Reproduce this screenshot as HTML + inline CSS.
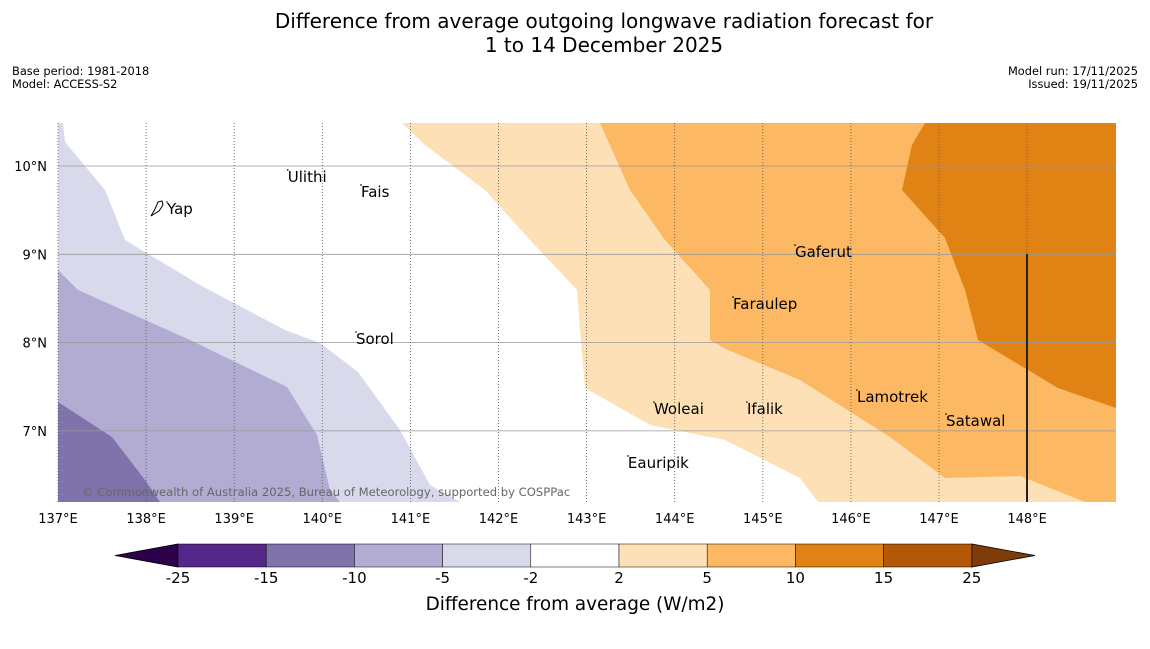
<!DOCTYPE html>
<html><head><meta charset="utf-8"><style>
body{margin:0;background:#fff;font-family:"Liberation Sans","DejaVu Sans",sans-serif;}
svg text{font-family:"DejaVu Sans","Liberation Sans",sans-serif;}
</style></head><body>
<svg id="c" width="1150" height="644" xmlns="http://www.w3.org/2000/svg">
<rect width="1150" height="644" fill="#fff"/>
<text x="604" y="28" font-size="20" text-anchor="middle">Difference from average outgoing longwave radiation forecast for</text>
<text x="604" y="52" font-size="20" text-anchor="middle">1 to 14 December 2025</text>
<text x="12" y="75" font-size="11.4">Base period: 1981-2018</text>
<text x="12" y="88" font-size="11.4">Model: ACCESS-S2</text>
<text x="1138" y="75" font-size="11.4" text-anchor="end">Model run: 17/11/2025</text>
<text x="1138" y="88" font-size="11.4" text-anchor="end">Issued: 19/11/2025</text>
<g id="map"></g>
<g id="cbar"></g>
</svg>
<script>
const lonTicks=[137,138,139,140,141,142,143,144,145,146,147,148];
const latTicks=[10,9,8,7];
const c_m2=[[63,123],[65,142],[105,190],[125,240],[200,285],[285,330],[320,343],[358,372],[400,430],[430,485],[460,502],[58,502],[58,123]];
const c_m5=[[58,270],[78,290],[190,340],[287,387],[317,435],[330,490],[340,502],[58,502]];
const c_m10=[[58,402],[112,437],[145,480],[160,502],[58,502]];
const c_p2=[[402,123],[425,145],[485,190],[530,240],[577,290],[580,330],[585,388],[650,425],[725,440],[800,478],[818,502],[1116,502],[1116,123]];
const c_p5=[[600,123],[630,190],[665,240],[710,290],[710,340],[728,350],[800,380],[890,437],[945,478],[1020,476],[1085,502],[1116,502],[1116,123]];
const c_p10=[[925,123],[912,145],[902,190],[945,238],[965,290],[978,340],[1058,388],[1116,408],[1116,123]];
const places=["Yap","Ulithi","Fais","Sorol","Gaferut","Faraulep","Woleai","Ifalik","Lamotrek","Satawal","Eauripik"];
const placeLon=[138.237,139.608,140.439,140.382,145.365,144.662,143.765,144.820,146.069,147.080,143.469];
const placeLat=[9.592,9.955,9.785,8.120,9.105,8.516,7.327,7.327,7.463,7.191,6.716];
const levels=[-25,-15,-10,-5,-2,2,5,10,15,25];
const levelColors=["#542788","#8073ac","#b2abd2","#d8daeb","#ffffff","#fee0b6","#fdb863","#e08214","#b35806"];
const X0=58,X1=1116,Y0=123,Y1=502;
const lonToX=l=>58+(l-137)*88.1, latToY=l=>166+(10-l)*88.3;
const pxToLon=x=>137+(x-58)/88.1, pxToLat=y=>10-(y-166)/88.3;
const NS="http://www.w3.org/2000/svg";
const map=document.getElementById('map');
function mk(t,a,p){const e=document.createElementNS(NS,t);for(const k in a)e.setAttribute(k,a[k]);(p||map).appendChild(e);return e;}
function poly(pts,fill,name){
 const d=pts.map(p=>lonToX(pxToLon(p[0])).toFixed(1)+','+latToY(pxToLat(p[1])).toFixed(1)).join(' ');
 const e=mk('polygon',{points:d,fill:fill});
 
 
}
poly(c_m2,"#d8daeb","contour-minus2");
poly(c_m5,"#b2abd2","contour-minus5");
poly(c_m10,"#8073ac","contour-minus10");
poly(c_p2,"#fee0b6","contour-plus2");
poly(c_p5,"#fdb863","contour-plus5");
poly(c_p10,"#e08214","contour-plus10");
latTicks.forEach(l=>{const y=latToY(l);
 const g=mk('line',{x1:X0,x2:X1,y1:y,y2:y,stroke:'#999','stroke-width':0.8});
 
 
 const t=mk('text',{x:47,y:y+5,'font-size':13,'text-anchor':'end'});t.textContent=l+'°N';
 
 
});
lonTicks.forEach(l=>{const x=lonToX(l);
 const g=mk('line',{x1:x,x2:x,y1:Y0,y2:Y1,stroke:'#555','stroke-width':0.8,'stroke-dasharray':'1,2'});
 
 
 const t=mk('text',{x:x,y:523,'font-size':13,'text-anchor':'middle'});t.textContent=l+'°E';
 
 
});
const vl=mk('line',{x1:1027,x2:1027,y1:254,y2:502,stroke:'#222','stroke-width':2});


places.forEach((p,i)=>{const x=lonToX(placeLon[i]),y=latToY(placeLat[i]);
 const d=mk('circle',{cx:x,cy:y,r:0.8,fill:'#000'});
 
 
 const t=mk('text',{x:x,y:y+12,'font-size':15});t.textContent=p;
 
 
});
const yi=mk('path',{d:'M151,216 L155,209 L158,202 L162,201 L163,205 L159,211 Z',fill:'none',stroke:'#000','stroke-width':1});


const cp=mk('text',{x:82,y:496,'font-size':11.6,fill:'#666'});cp.textContent='© Commonwealth of Australia 2025, Bureau of Meteorology, supported by COSPPac';


const cb=document.getElementById('cbar');
const cbX=i=>178+i*88.2, cy0=544, cy1=567;
const lt=mk('polygon',{points:`115,555.5 ${cbX(0)},${cy0} ${cbX(0)},${cy1}`,fill:'#2d004b',stroke:'#000','stroke-width':0.8},cb);


const rt=mk('polygon',{points:`1035,555.5 ${cbX(9)},${cy0} ${cbX(9)},${cy1}`,fill:'#7f3b08',stroke:'#000','stroke-width':0.8},cb);


levelColors.forEach((c,i)=>{
 const r=mk('rect',{x:cbX(i),y:cy0,width:88.2,height:cy1-cy0,fill:c,stroke:'#000','stroke-width':0.5},cb);
 
 
});
levels.forEach((v,i)=>{
 const t=mk('text',{x:cbX(i),y:583,'font-size':15,'text-anchor':'middle'},cb);t.textContent=v;
 
 
});
const ct=mk('text',{x:575,y:610,'font-size':18.4,'text-anchor':'middle'},cb);ct.textContent='Difference from average (W/m2)';


</script>
</body></html>
